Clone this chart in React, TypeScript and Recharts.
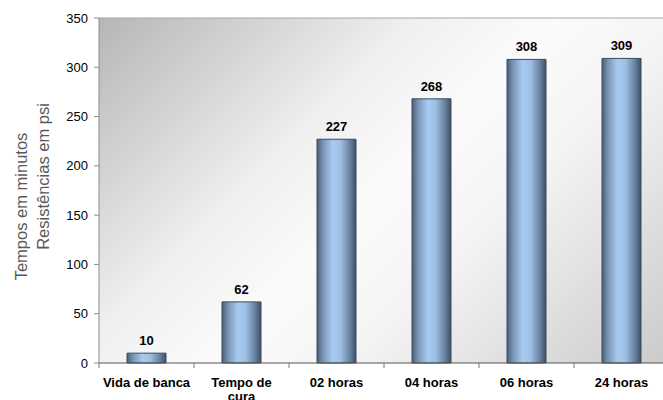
import React from 'react';
import {
  BarChart,
  Bar,
  XAxis,
  YAxis,
  CartesianGrid,
  LabelList,
  ReferenceLine,
} from 'recharts';

// categories (a "\n" marks where the original wraps the label)
const categories = ['Vida de banca', 'Tempo de\ncura', '02 horas', '04 horas', '06 horas', '24 horas'];
const values = [10, 62, 227, 268, 308, 309];
const yTicks = [0, 50, 100, 150, 200, 250, 300, 350];
const yLabelLines = ['Tempos em minutos', 'Resistências em psi'];

const data = categories.map((name, i) => ({ name, value: values[i] }));

const FONT = 'Arial, "Liberation Sans", sans-serif';

// label plus the small tick marks that sit between categories
function CategoryTick(props: any) {
  const { x, y, payload, width, visibleTicksCount, index } = props;
  const lines = String(payload.value).split('\n');
  const band = width && visibleTicksCount ? width / visibleTicksCount : 0;
  return (
    <g transform={`translate(${x},${y})`}>
      {band > 0 && <line x1={-band / 2} x2={-band / 2} y1={0} y2={5} stroke="#7a7a7a" />}
      {band > 0 && index === visibleTicksCount - 1 && (
        <line x1={band / 2} x2={band / 2} y1={0} y2={5} stroke="#7a7a7a" />
      )}
      <text textAnchor="middle" fontFamily={FONT} fontSize={13} fontWeight="bold" fill="#000">
        {lines.map((l, i) => (
          <tspan key={i} x={0} dy={i === 0 ? 24 : 14}>
            {l}
          </tspan>
        ))}
      </text>
    </g>
  );
}

function YTitle(props: any) {
  const { viewBox } = props;
  const cy = viewBox.y + viewBox.height / 2;
  return (
    <g fontFamily={FONT} fontSize={16.5} fill="#595959">
      <text transform={`translate(27,${cy + 16}) rotate(-90)`} textAnchor="middle">
        {yLabelLines[0]}
      </text>
      <text transform={`translate(49,${cy - 14}) rotate(-90)`} textAnchor="middle">
        {yLabelLines[1]}
      </text>
    </g>
  );
}

export default function App() {
  return (
    <div style={{ position: 'absolute', left: 0, top: 0, width: 663, height: 400, overflow: 'hidden', background: '#fff' }}>
      <BarChart
        width={669}
        height={400}
        data={data}
        margin={{ top: 18, right: 0, bottom: 0, left: 0 }}
        barCategoryGap={0}
      >
        <defs>
          <linearGradient id="plotBg" gradientUnits="userSpaceOnUse" x1={99} y1={18} x2={556} y2={475}>
            <stop offset="0%" stopColor="#b6b6b6" />
            <stop offset="35%" stopColor="#f0f0f0" />
            <stop offset="50%" stopColor="#fbfbfb" />
            <stop offset="65%" stopColor="#f4f4f4" />
            <stop offset="100%" stopColor="#cacaca" />
          </linearGradient>
          <linearGradient id="barFill" x1="0" y1="0" x2="1" y2="0">
            <stop offset="0%" stopColor="#4a5f7a" />
            <stop offset="15%" stopColor="#7893b3" />
            <stop offset="40%" stopColor="#a8caf0" />
            <stop offset="60%" stopColor="#9fc0e4" />
            <stop offset="85%" stopColor="#66809e" />
            <stop offset="100%" stopColor="#3f5064" />
          </linearGradient>
        </defs>
        <CartesianGrid fill="url(#plotBg)" horizontal={false} vertical={false} stroke="none" />
        <XAxis
          dataKey="name"
          interval={0}
          height={37}
          tick={<CategoryTick />}
          tickLine={false}
          tickSize={0}
          tickMargin={0}
          axisLine={{ stroke: '#555', strokeWidth: 1 }}
        />
        <YAxis
          width={99}
          domain={[0, 350]}
          ticks={yTicks}
          interval={0}
          tick={{ fontFamily: FONT, fontSize: 13, fill: '#000' }}
          tickLine={{ stroke: '#8c8c8c' }}
          tickSize={5}
          tickMargin={6}
          axisLine={{ stroke: '#8c8c8c' }}
          label={{ content: <YTitle /> }}
        />
        <ReferenceLine y={350} stroke="#a6a6a6" />
        <Bar dataKey="value" barSize={39} fill="url(#barFill)" stroke="#3b4a5c" strokeWidth={1} isAnimationActive={false}>
          <LabelList
            dataKey="value"
            position="top"
            offset={8}
            style={{ fontFamily: FONT, fontSize: 13, fontWeight: 'bold', fill: '#000' }}
          />
        </Bar>
      </BarChart>
    </div>
  );
}
